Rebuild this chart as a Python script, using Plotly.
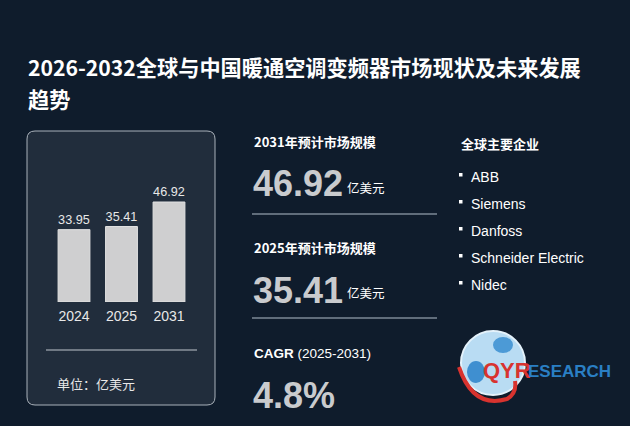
import plotly.graph_objects as go

# data
years = ["2024", "2025", "2031"]
market_size = [33.95, 35.41, 46.92]
size_2031 = "46.92"
size_2025 = "35.41"
cagr = "4.8%"
companies = ["ABB", "Siemens", "Danfoss", "Schneider Electric", "Nidec"]
title_lines = ["2026-2032全球与中国暖通空调变频器市场现状及未来发展", "趋势"]

W, H = 630, 426
BG = "#0f1c2c"
CJK = "Noto Sans CJK SC"
LAT = "Liberation Sans, Arial, sans-serif"


def px(x):
    return x / W


def py(y):
    return 1 - y / H


fig = go.Figure()
fig.add_trace(go.Bar(
    x=years, y=market_size,
    marker=dict(color="#cfcfd0", line=dict(color="#e2e2e2", width=1)),
    text=[f"{v:.2f}" for v in market_size], textposition="outside",
    textfont=dict(color="#e8e8e8", size=14, family=LAT),
    cliponaxis=False, width=0.67, hoverinfo="skip",
))

fig.update_layout(
    width=W, height=H, margin=dict(l=0, r=0, t=0, b=0),
    paper_bgcolor=BG, plot_bgcolor="rgba(0,0,0,0)",
    showlegend=False,
    xaxis=dict(domain=[px(50.25), px(192.75)], showgrid=False, zeroline=False,
               showline=False, ticks="", tickfont=dict(color="#e8e8e8", size=14, family=LAT),
               ticklabelstandoff=4),
    yaxis=dict(domain=[py(302), py(150)], range=[0, 46.92 * 152 / 100], visible=False),
)

# card with rounded corners
x0, y0, x1, y1, r = px(27), py(131), px(215), py(405), 8
rx, ry = r / W, r / H
card = (f"M {x0+rx},{y0} L {x1-rx},{y0} Q {x1},{y0} {x1},{y0-ry} "
        f"L {x1},{y1+ry} Q {x1},{y1} {x1-rx},{y1} L {x0+rx},{y1} "
        f"Q {x0},{y1} {x0},{y1+ry} L {x0},{y0-ry} Q {x0},{y0} {x0+rx},{y0} Z")
fig.add_shape(type="path", path=card, xref="paper", yref="paper",
              fillcolor="rgba(255,255,255,0.08)", line=dict(color="#a9b1ba", width=1), layer="below")
fig.add_shape(type="line", xref="paper", yref="paper", x0=px(46), x1=px(197), y0=py(350), y1=py(350),
              line=dict(color="#c0c6cc", width=1))

ann = []


def text(x, y, s, size, color="white", family=CJK, anchor="left"):
    ann.append(dict(x=px(x), y=py(y), xref="paper", yref="paper", text=s, showarrow=False,
                    xanchor=anchor, yanchor="middle", align="left",
                    font=dict(size=size, color=color, family=family)))


text(26, 67, f"<b>{title_lines[0]}</b>", 21.2)
text(26, 98, f"<b>{title_lines[1]}</b>", 21.2)
text(55, 383, "单位：亿美元", 13, "#e8e8e8")

# middle column
text(252, 142, "<b>2031年预计市场规模</b>", 13)
text(251, 183, f"<b>{size_2031}</b>", 36, "#c9cbce", LAT)
text(345, 187, "亿美元", 12.5)
text(252, 247, "<b>2025年预计市场规模</b>", 13)
text(251, 290, f"<b>{size_2025}</b>", 36, "#c9cbce", LAT)
text(345, 292, "亿美元", 12.5)
text(252, 353, "<b>CAGR</b> (2025-2031)", 13.5, "white", LAT)
text(251, 395, f"<b>{cagr}</b>", 36, "#c9cbce", LAT)
for yy in (214, 318):
    fig.add_shape(type="line", xref="paper", yref="paper", x0=px(252), x1=px(437), y0=py(yy), y1=py(yy),
                  line=dict(color="#7d8896", width=1.5))

# right column
text(459, 143, "<b>全球主要企业</b>", 13)
for i, c in enumerate(companies):
    yy = 176 + i * 27
    fig.add_shape(type="rect", xref="paper", yref="paper", x0=px(459), x1=px(462.5), y0=py(yy - 3), y1=py(yy + 0.5),
                  fillcolor="white", line=dict(width=0))
    text(469, yy + 1, c, 14, "white", LAT)

# logo: globe, red swoosh, wordmark
cx, cy, rad = 493, 363, 32
fig.add_shape(type="circle", xref="paper", yref="paper", x0=px(cx - rad), x1=px(cx + rad),
              y0=py(cy + rad), y1=py(cy - rad), fillcolor="#b9dcf3", line=dict(color="#e4f2fb", width=2))
fig.add_shape(type="circle", xref="paper", yref="paper", x0=px(cx - 26), x1=px(cx - 8),
              y0=py(cy + 20), y1=py(cy - 2), fillcolor="#3f8fd0", line=dict(width=0))
fig.add_shape(type="circle", xref="paper", yref="paper", x0=px(cx), x1=px(cx + 20),
              y0=py(cy - 10), y1=py(cy - 26), fillcolor="#4c9ad6", line=dict(width=0))
fig.add_shape(type="path", xref="paper", yref="paper",
              path=f"M {px(cx-rad-2)},{py(cy+4)} Q {px(cx-20)},{py(cy+rad+14)} {px(cx+14)},{py(cy+rad+4)} "
                   f"Q {px(cx+24)},{py(cy+rad-2)} {px(cx+22)},{py(cy+18)}",
              line=dict(color="#d8332f", width=4))
text(481, 370, "<b>QYR</b>", 22, "#d8332f", LAT)
text(526, 371, "<b>ESEARCH</b>", 17, "#2a7fc4", LAT)

fig.update_layout(annotations=ann)
fig.write_html("out.html", config={"displayModeBar": False},
               post_script="document.body.style.margin='0';document.body.style.background='%s';" % BG)
